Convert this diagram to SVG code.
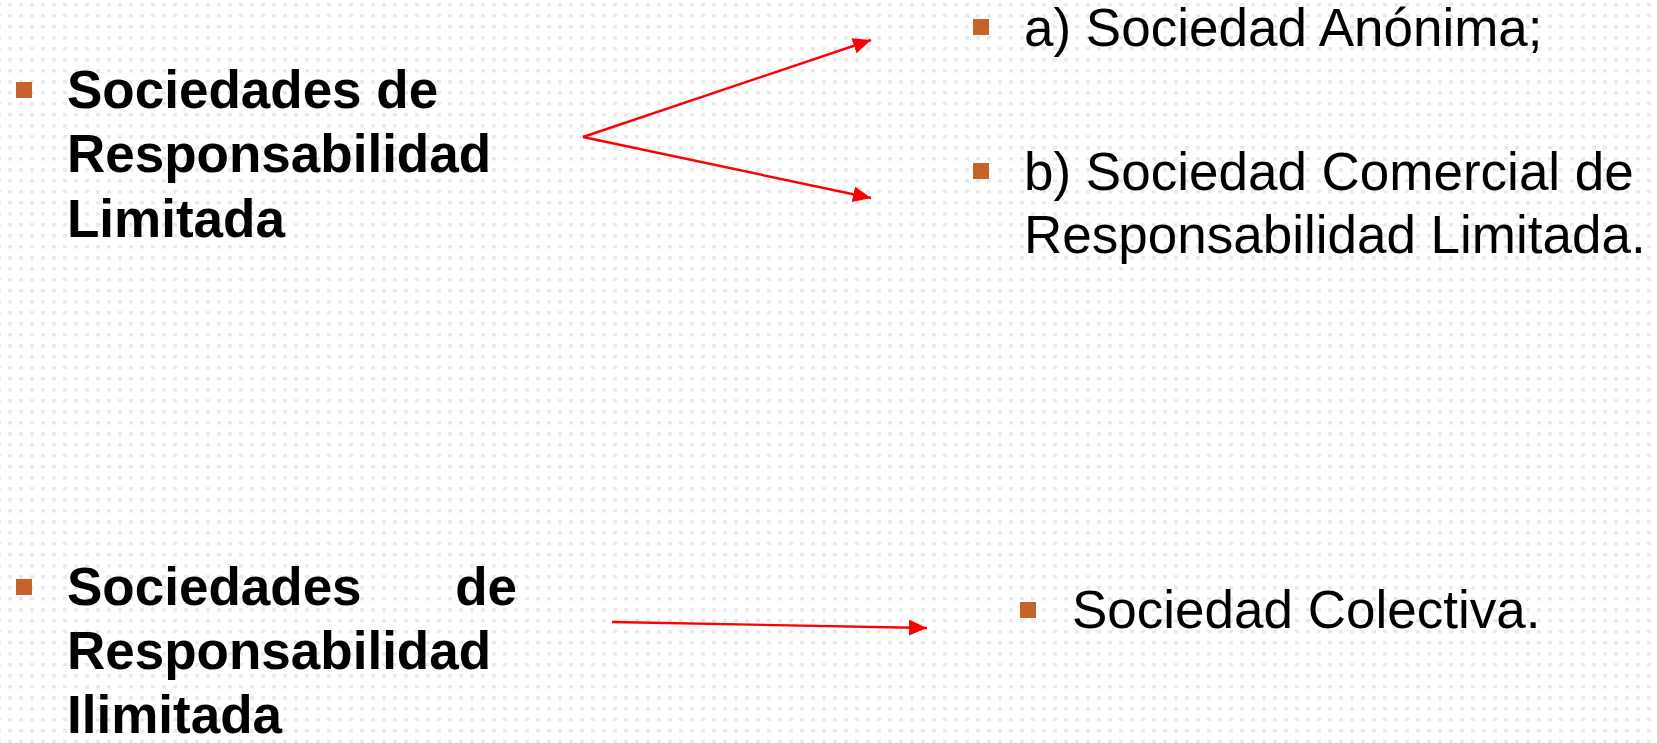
<svg xmlns="http://www.w3.org/2000/svg" width="1657" height="743" viewBox="0 0 1657 743">
  <style>
    .b { font-family: "Liberation Sans", Arial, sans-serif; font-weight: bold; font-size: 53px; fill: #000; }
    .r { font-family: "Liberation Sans", Arial, sans-serif; font-size: 53px; fill: #000; }
    .bul { fill: #C5622D; }
    .conn { stroke: #FF0000; stroke-width: 2.4; fill: none; }
  </style>
  <defs>
    <pattern id="dots" x="8" y="3" width="11" height="11" patternUnits="userSpaceOnUse">
      <rect x="0" y="0" width="4" height="3" fill="#e9e9e9"/>
      <rect x="0" y="3" width="4" height="1" fill="#f4f4f4"/>
    </pattern>
    <marker id="arrow" markerUnits="userSpaceOnUse" markerWidth="19" markerHeight="16" refX="18" refY="8" orient="auto">
      <path d="M0,0 L18,8 L0,16 Z" fill="#FF0000"/>
    </marker>
  </defs>
  <rect width="1657" height="743" fill="#ffffff"/>
  <rect width="1657" height="743" fill="url(#dots)"/>

  <g id="node-limitada">
    <rect class="bul" x="16" y="82" width="16" height="16"/>
    <text class="b" x="67" y="108">Sociedades de</text>
    <text class="b" x="67" y="172">Responsabilidad</text>
    <text class="b" x="67" y="237">Limitada</text>
  </g>

  <g id="node-ilimitada">
    <rect class="bul" x="16" y="579" width="16" height="16"/>
    <text class="b" x="67" y="605">Sociedades</text>
    <text class="b" x="517" y="605" text-anchor="end">de</text>
    <text class="b" x="67" y="669">Responsabilidad</text>
    <text class="b" x="67" y="733">Ilimitada</text>
  </g>

  <g id="node-anonima">
    <rect class="bul" x="973" y="19" width="16" height="16"/>
    <text class="r" x="1024" y="46">a) Sociedad Anónima;</text>
  </g>

  <g id="node-comercial">
    <rect class="bul" x="973" y="163" width="16" height="16"/>
    <text class="r" x="1024" y="190">b) Sociedad Comercial de</text>
    <text class="r" x="1024" y="253">Responsabilidad Limitada.</text>
  </g>

  <g id="node-colectiva">
    <rect class="bul" x="1020" y="602" width="16" height="16"/>
    <text class="r" x="1072" y="628">Sociedad Colectiva.</text>
  </g>

  <g id="connectors">
    <line class="conn" x1="583" y1="137" x2="871" y2="40" marker-end="url(#arrow)"/>
    <line class="conn" x1="583" y1="137" x2="871" y2="198" marker-end="url(#arrow)"/>
    <line class="conn" x1="612" y1="622" x2="927" y2="628" marker-end="url(#arrow)"/>
  </g>
</svg>
